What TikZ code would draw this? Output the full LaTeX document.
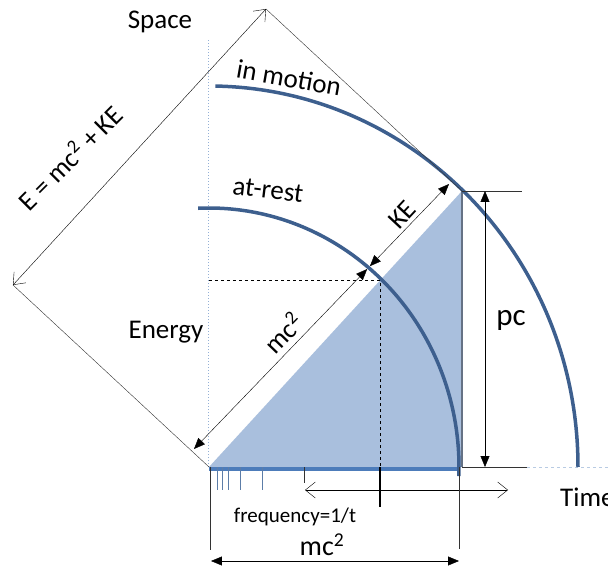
\documentclass[tikz,border=0pt]{standalone}
\usepackage{fontspec}
\setmainfont{Carlito}
\usetikzlibrary{arrows.meta,calc}

\definecolor{arcblue}{HTML}{3D5F8E}
\definecolor{fillblue}{HTML}{A9BFDD}
\definecolor{axisblue}{HTML}{4D7CBA}

\begin{document}
\begin{tikzpicture}[x=1pt, y=1pt,
    font=\fontsize{27}{31}\selectfont,
    curve/.style={draw=arcblue, line width=3.5pt},
    dart/.style={{Triangle[length=11pt,width=9pt]}-{Triangle[length=11pt,width=9pt]}, thin},
    barb/.style={{Straight Barb[length=10pt,width=16pt]}-{Straight Barb[length=10pt,width=16pt]}, thin},
    guide/.style={draw=black!80, thin},
    freqtick/.style={draw=axisblue!70!gray, line width=0.8pt}
  ]
  \useasboundingbox (-209,-101) rectangle (399,467);

  \coordinate (o) at (0,0);
  \coordinate (a) at (253,276);
  \coordinate (b) at (253,0);
  \coordinate (l) at (-196,182);
  \coordinate (t) at ($(l)+(a)$);

  % triangle
  \fill[fillblue] (o) -- (a) -- (b) -- cycle;
  \draw[draw=gray!60!arcblue, line width=1.2pt] (a) -- (b);

  % axes
  \draw[axisblue!60, dotted, line width=1pt] (o) -- (0,427);
  \draw[axisblue, line width=4pt] (0,-2) -- (250,-2);
  \draw[black!80] (b) -- (318,0);
  \draw[axisblue!40, dashed] (318,0) -- (399,0);

  % at-rest and in motion
  \draw[curve] (92.5:250pt and 259pt)
    arc[start angle=92.5, end angle=-2, x radius=250pt, y radius=259pt];
  \draw[curve] (89:369pt and 381pt)
    arc[start angle=89, end angle=0, x radius=369pt, y radius=381pt];

  % energy box
  \draw[guide] (l) -- (o);
  \draw[guide] (t) -- (a);
  \draw[barb] (l) -- (t);

  % mc2 + KE
  \coordinate (s) at (-15,18);
  \coordinate (k) at (240,283);
  \coordinate (m) at ($(s)!0.6845!(k)$);
  \draw[dart, shorten >=2pt] (s) -- (m);
  \draw[dart, shorten <=2pt] (m) -- (k);

  % pc
  \coordinate (ae) at (313,276);
  \coordinate (p0) at (276,0);
  \coordinate (p1) at (276,276);
  \draw[guide] (a) -- (ae);
  \draw[dart] (p0) -- (p1);

  % projection
  \coordinate (d) at ($(o)!0.676!(a)$);
  \draw[dashed, thin] (o |- d) -- (d) -- (d |- o);
  \draw[line width=2.5pt] (d |- o) -- ++(0,-40);

  % frequency
  \foreach \x in {8,13,19,31,53} {\draw[freqtick] (\x,0) -- (\x,-23);}
  \coordinate (f0) at (96,-23);
  \coordinate (f1) at (299,-23);
  \draw[guide] (95,0) -- (95,-16);
  \draw[barb] (f0) -- (f1);

  % rest length
  \coordinate (q0) at (2,-94);
  \coordinate (q1) at (250,-94);
  \draw[guide] (1,0) -- (1,-83);
  \draw[guide] (250,0) -- (250,-82);
  \draw[dart] (q0) -- (q1);

  \node (space) at (-49,445) {Space};
  \node[rotate=-10] (motion) at (80,389) {in motion};
  \node[rotate=-7] (rest) at (59,277) {at-rest};
  \node[rotate=47] (ke) at (193,252) {KE};
  \node[rotate=46] (mc) at (74,134) {mc\textsuperscript{2}};
  \node (energy) at (-43,135) {Energy};
  \node[font=\fontsize{31}{35}\selectfont] (pc) at (302,147) {pc};
  \node[rotate=45] (etot) at (-139,310) {E = mc\textsuperscript{2} + KE};
  \node[anchor=west, inner sep=0pt] (time) at (351,-30) {Time};
  \node[font=\fontsize{21}{24}\selectfont] (freq) at (86,-50) {frequency=1/t};
  \node[font=\fontsize{28}{32}\selectfont] (mcb) at (113,-78) {mc\textsuperscript{2}};
\end{tikzpicture}
\end{document}
